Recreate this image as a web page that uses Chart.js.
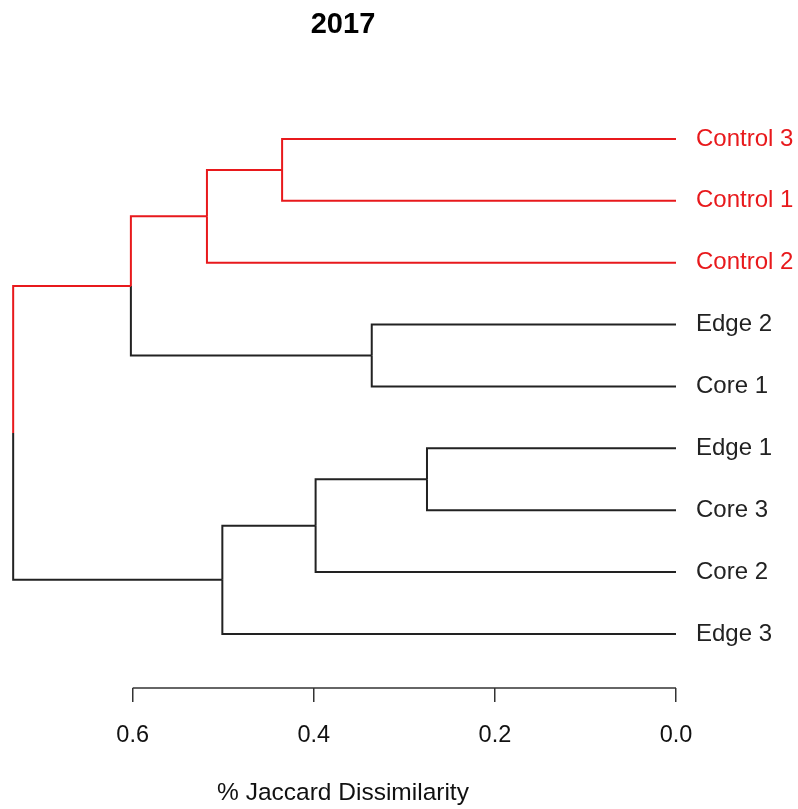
<!DOCTYPE html>
<html>
<head>
<meta charset="utf-8">
<script src="https://cdn.jsdelivr.net/npm/chart.js@4"></script>
<style>
  body { margin: 0; background: #fff; }
  #wrap { width: 798px; height: 809px; }
</style>
</head>
<body>
<div id="wrap"><canvas id="myChart" width="798" height="809"></canvas></div>
<script>
// leaves, top to bottom (y = 1..9)
var leafNames = ['Control 3', 'Control 1', 'Control 2', 'Edge 2', 'Core 1', 'Edge 1', 'Core 3', 'Core 2', 'Edge 3'];
var leafColors = ['red', 'red', 'red', 'black', 'black', 'black', 'black', 'black', 'black'];

// hclust style merges: negative = leaf number, positive = earlier merge
var mergeA = [-6, -4, 1, -1, 3, 4, 6, 7];
var mergeB = [-7, -5, -8, -2, -9, -3, 2, 5];
var mergeHeight = [0.275, 0.336, 0.398, 0.435, 0.501, 0.518, 0.602, 0.732];
var mergeColors = ['black', 'black', 'black', 'red', 'black', 'red', 'red', 'black'];

var xTicks = [0, 0.2, 0.4, 0.6];

var RED = '#e8191c';
var BLACK = '#222';
var font = 'Liberation Sans, Arial, sans-serif';

var colorOf = (c) => c == 'red' ? RED : BLACK;

// position / height / colour of a node
var node = (id) => {
  if (id < 0) {
    var i = -id - 1;
    return { y: i + 1, h: 0, color: leafColors[i] };
  }
  var a = node(mergeA[id - 1]);
  var b = node(mergeB[id - 1]);
  return { y: (a.y + b.y) / 2, h: mergeHeight[id - 1], color: mergeColors[id - 1], a: a, b: b };
};

var datasets = [];
var addEdges = (n) => {
  if (!n.a) return;
  [n.a, n.b].forEach((c) => {
    datasets.push({
      data: [{ x: n.h, y: n.y }, { x: n.h, y: c.y }, { x: c.h, y: c.y }],
      borderColor: colorOf(c.color),
      borderWidth: 2,
      pointRadius: 0,
      showLine: true,
      fill: false
    });
    addEdges(c);
  });
};
addEdges(node(mergeHeight.length));

// R style axis line: only from first to last tick
var axisLine = {
  id: 'axisLine',
  afterDraw: (chart) => {
    var x = chart.scales.x;
    var c = chart.ctx;
    var y = chart.chartArea.bottom;
    c.save();
    c.strokeStyle = '#333';
    c.lineWidth = 1.5;
    c.beginPath();
    c.moveTo(x.getPixelForValue(Math.max(...xTicks)), y);
    c.lineTo(x.getPixelForValue(Math.min(...xTicks)), y);
    c.stroke();
    c.restore();
  }
};

var ctx = document.getElementById('myChart');
var myChart = new Chart(ctx, {
  type: 'scatter',
  data: { datasets: datasets },
  options: {
    responsive: false,
    animation: false,
    layout: { padding: { left: 10, right: 0, top: 0, bottom: 0 } },
    plugins: {
      legend: { display: false },
      tooltip: { enabled: false },
      title: {
        display: true,
        text: '2017',
        fullSize: false,
        color: '#000',
        font: { family: font, size: 29, weight: 'bold' },
        padding: { top: 8, bottom: 27.2 }
      }
    },
    scales: {
      x: {
        type: 'linear',
        reverse: true,
        min: 0,
        max: 0.7355,
        afterBuildTicks: (s) => { s.ticks = xTicks.map((v) => ({ value: v })); },
        afterFit: (s) => { s.height = 121; },
        border: { display: false },
        grid: { drawOnChartArea: false, drawTicks: true, tickLength: 14, color: '#333', lineWidth: 1.5 },
        ticks: {
          color: '#111',
          padding: 19,
          maxRotation: 0,
          font: { family: font, size: 23.5 },
          callback: (v) => v.toFixed(1)
        },
        title: {
          display: true,
          text: '% Jaccard Dissimilarity',
          color: '#111',
          font: { family: font, size: 24.5 },
          padding: { top: 0, bottom: 1 }
        }
      },
      y: {
        type: 'linear',
        position: 'right',
        reverse: true,
        min: -0.115,
        max: 9.873,
        afterBuildTicks: (s) => { s.ticks = leafNames.map((n, i) => ({ value: i + 1 })); },
        afterFit: (s) => { s.width = 122; },
        border: { display: false },
        grid: { display: false, drawTicks: false },
        ticks: {
          padding: 20,
          font: { family: font, size: 24 },
          color: (c) => colorOf(leafColors[c.index]),
          callback: (v) => leafNames[v - 1]
        }
      }
    }
  },
  plugins: [axisLine]
});
</script>
</body>
</html>
